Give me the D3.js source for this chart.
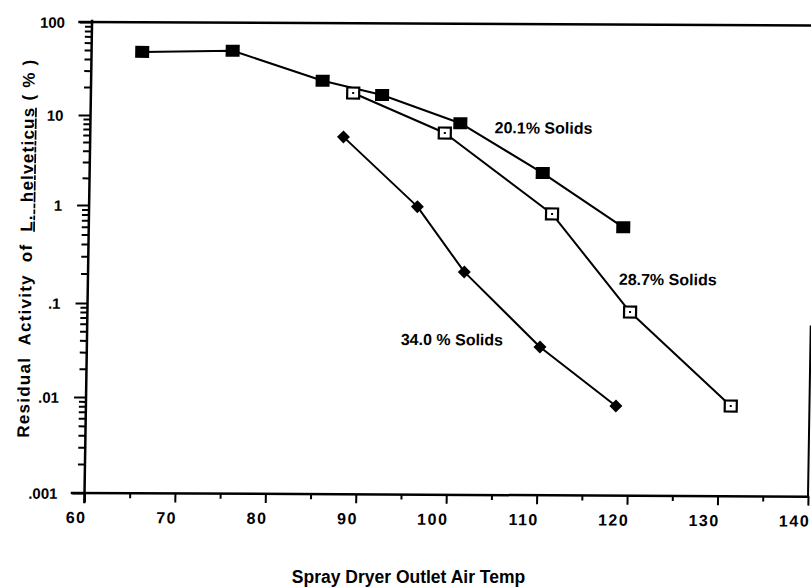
<!DOCTYPE html>
<html>
<head>
<meta charset="utf-8">
<script src="https://cdn.jsdelivr.net/npm/d3@7"></script>
<style>
  body { margin: 0; background: #fff; }
  svg { display: block; }
  text { font-family: "Liberation Sans", Arial, Helvetica, sans-serif; font-weight: bold; fill: #000; }
</style>
</head>
<body>
<svg id="chart" width="811" height="588"></svg>
<script>
// Outlet air temperature (°C) and residual activity (%) for each solids level
const temps201 = [65.6, 75.6, 85.6, 92.2, 100.9, 110.1, 119.1];
const activity201 = [48, 50, 24, 17, 8.5, 2.4, 0.63];

const temps287 = [89.0, 99.2, 111.2, 120.0, 131.3];
const activity287 = [17.8, 6.6, 0.855, 0.0857, 0.0087];

const temps340 = [88.0, 96.3, 101.6, 110.1, 118.6];
const activity340 = [5.9, 1.0, 0.217, 0.036, 0.0086];

const seriesNames = ["20.1% Solids", "28.7% Solids", "34.0 % Solids"];

const xTicks = [60, 70, 80, 90, 100, 110, 120, 130, 140];
const xTickLabels = ["60", "70", "80", "90", "100", "110", "120", "130", "140"];
const xMinorTicks = [65, 75, 85, 95, 105, 115, 125, 135];
const yTicks = [100, 10, 1, 0.1, 0.01, 0.001];
const yTickLabels = ["100", "10", "1", ".1", ".01", ".001"];

const xTitle = "Spray Dryer Outlet Air Temp";

const width = 811, height = 588;
const svg = d3.select("#chart");
svg.append("rect").attr("width", width).attr("height", height).attr("fill", "#fff");

// the plotted sheet sits slightly sheared / tilted
const shear = 0.016, tilt = 0.005, baseY = 493, baseX = 84;
const g = svg.append("g")
  .attr("transform", `matrix(1,${tilt},${-shear},1,${shear * baseY},${-tilt * baseX})`);

const x = d3.scaleLinear().domain([60, 140]).range([84.5, 808]);
const y = d3.scaleLog()
  .domain([0.001, 0.01, 0.1, 1, 10, 100])
  .range([493, 397, 303, 205, 115, 22]);

// minor log ticks 2..9 in each decade
const yMinorTicks = [];
[0.001, 0.01, 0.1, 1, 10].forEach(dec => {
  for (let k = 2; k <= 9; k++) yMinorTicks.push(dec * k);
});

// frame lines
const frame = g.append("g").attr("stroke", "#000").attr("stroke-linecap", "square");
frame.append("line").attr("x1", 72).attr("x2", x(140)).attr("y1", y(0.001)).attr("y2", y(0.001)).attr("stroke-width", 2.5);
frame.append("line").attr("x1", x(60)).attr("x2", x(60)).attr("y1", y(100) - 1).attr("y2", y(0.001) + 9).attr("stroke-width", 2.5);
frame.append("line").attr("x1", 72).attr("x2", 830).attr("y1", y(100)).attr("y2", y(100)).attr("stroke-width", 2.5);
frame.append("line").attr("x1", x(140)).attr("x2", x(140)).attr("y1", 323).attr("y2", y(0.001)).attr("stroke-width", 2);

// y axis: major with labels, minor without
const yAxisMajor = g.append("g")
  .attr("transform", `translate(${x(60)},0)`)
  .call(d3.axisLeft(y).tickValues(yTicks).tickSize(12).tickSizeOuter(0)
    .tickFormat((d, i) => yTickLabels[i]));
const yAxisMinor = g.append("g")
  .attr("transform", `translate(${x(60)},0)`)
  .call(d3.axisLeft(y).tickValues(yMinorTicks).tickSize(7).tickSizeOuter(0).tickFormat(""));

// x axis
const xAxisMajor = g.append("g")
  .attr("transform", `translate(0,${y(0.001)})`)
  .call(d3.axisBottom(x).tickValues(xTicks).tickSize(9).tickSizeOuter(0)
    .tickFormat((d, i) => xTickLabels[i]));
const xAxisMinor = g.append("g")
  .attr("transform", `translate(0,${y(0.001)})`)
  .call(d3.axisBottom(x).tickValues(xMinorTicks).tickSize(5).tickSizeOuter(0).tickFormat(""));

[yAxisMajor, yAxisMinor, xAxisMajor, xAxisMinor].forEach(a => {
  a.select(".domain").remove();
  a.attr("font-family", null).attr("font-size", null);
  a.selectAll(".tick line").attr("stroke", "#000").attr("stroke-width", 2);
});

yAxisMajor.selectAll(".tick text")
  .attr("x", -27).attr("dy", "0.36em")
  .style("font-size", "15px").attr("text-anchor", "end");

xAxisMajor.selectAll(".tick text")
  .attr("x", 2).attr("y", 30).attr("dy", 0)
  .style("font-size", "16px").style("letter-spacing", "1.5px")
  .attr("text-anchor", "end");

// series
const series = [
  { name: seriesNames[0], pts: temps201.map((t, i) => ({ t, v: activity201[i] })), marker: "filledSquare" },
  { name: seriesNames[1], pts: temps287.map((t, i) => ({ t, v: activity287[i] })), marker: "openSquare" },
  { name: seriesNames[2], pts: temps340.map((t, i) => ({ t, v: activity340[i] })), marker: "diamond" }
];

const line = d3.line().x(d => x(d.t)).y(d => y(d.v));

g.append("g").selectAll("path.series")
  .data(series).join("path")
  .attr("class", "series")
  .attr("d", d => line(d.pts))
  .attr("fill", "none").attr("stroke", "#000").attr("stroke-width", 2)
  .attr("stroke-linejoin", "round");

const markers = g.append("g");
series.forEach(s => {
  const mg = markers.append("g");
  const pts = mg.selectAll("g").data(s.pts).join("g")
    .attr("transform", d => `translate(${x(d.t)},${y(d.v)})`);
  if (s.marker === "filledSquare") {
    pts.append("rect").attr("x", -7).attr("y", -6).attr("width", 14).attr("height", 12).attr("fill", "#000");
  } else if (s.marker === "openSquare") {
    pts.append("rect").attr("x", -6).attr("y", -5.5).attr("width", 12).attr("height", 11)
      .attr("fill", "#fff").attr("stroke", "#000").attr("stroke-width", 2.2);
    pts.append("rect").attr("x", -1).attr("y", -1).attr("width", 2).attr("height", 2).attr("fill", "#000");
  } else {
    pts.append("path").attr("d", "M0,-6.5L6.5,0L0,6.5L-6.5,0Z").attr("fill", "#000");
  }
});

// series labels, anchored in data space
const labelAnchors = [
  { t: 104.7, v: 6.6 },
  { t: 118.7, v: 0.163 },
  { t: 94.7, v: 0.0372 }
];
g.append("g").selectAll("text")
  .data(series).join("text")
  .attr("x", (d, i) => x(labelAnchors[i].t))
  .attr("y", (d, i) => y(labelAnchors[i].v))
  .style("font-size", "16px")
  .text(d => d.name);

// y axis title
const yTitle = g.append("text")
  .attr("transform", "translate(28,249) rotate(-90)")
  .attr("text-anchor", "middle")
  .attr("textLength", 378).attr("lengthAdjust", "spacing")
  .style("font-size", "17px")
  .style("white-space", "pre");
yTitle.append("tspan").text("Residual  Activity  of  ");
yTitle.append("tspan").style("text-decoration", "underline").text("L.  helveticus");
yTitle.append("tspan").text(" ( % )");

// x axis title
svg.append("text")
  .attr("x", 408.5).attr("y", 583)
  .attr("text-anchor", "middle")
  .style("font-size", "17.5px")
  .text(xTitle);
</script>
</body>
</html>
